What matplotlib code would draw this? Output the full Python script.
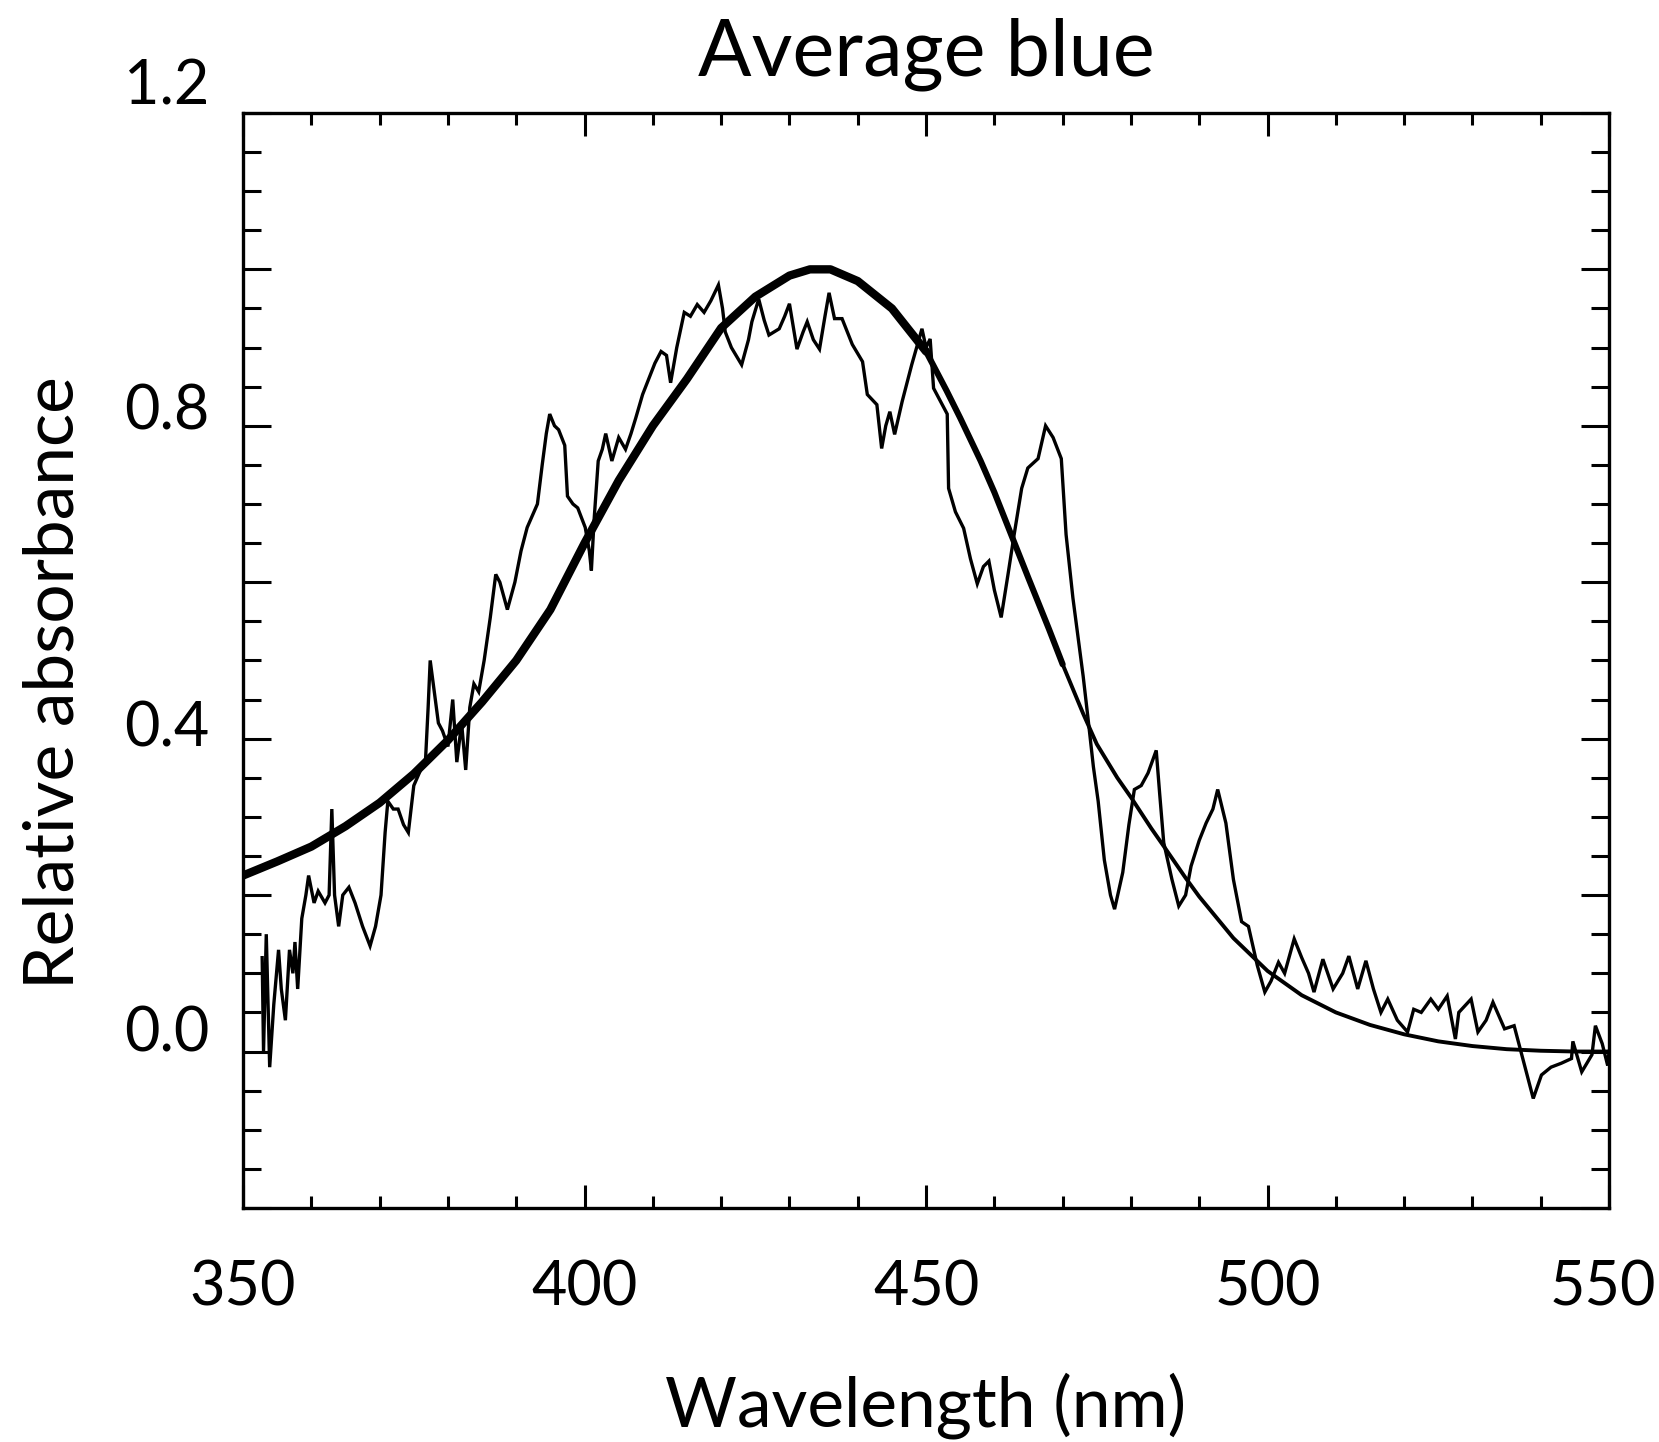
import numpy as np
import matplotlib.pyplot as plt
from matplotlib.ticker import MultipleLocator
from matplotlib.transforms import ScaledTranslation

plt.rcParams['font.family'] = ['Lato', 'DejaVu Sans']

# template fit (smooth curve)
wl_fit = [350, 355, 360, 365, 370, 375, 380, 385, 390, 395, 400, 405, 410,
          415, 420, 425, 430, 433, 436, 440, 445, 450, 453, 455, 458, 460,
          462.5, 465, 468, 470, 473, 475, 478, 480, 483, 485, 488, 490, 495,
          500, 505, 510, 515, 520, 525, 530, 535, 540, 545, 550]
abs_fit = [0.225, 0.243, 0.262, 0.288, 0.318, 0.355, 0.398, 0.447, 0.500,
           0.565, 0.650, 0.730, 0.800, 0.860, 0.925, 0.965, 0.992, 1.000,
           1.000, 0.985, 0.950, 0.895, 0.845, 0.810, 0.755, 0.715, 0.660,
           0.605, 0.540, 0.495, 0.432, 0.393, 0.350, 0.325, 0.285, 0.260,
           0.222, 0.198, 0.145, 0.103, 0.072, 0.050, 0.034, 0.022, 0.013,
           0.007, 0.003, 0.001, 0.0, 0.0]

# measured average spectrum (noisy curve)
wl_raw = [352.8, 353.0, 353.4, 353.9, 354.5, 355.2, 355.6, 356.2, 356.8, 357.3,
          357.6, 358.0, 358.6, 359.2, 359.6, 360.4, 361.0, 362.0, 362.6, 363.0,
          363.4, 364.0, 364.6, 365.5, 366.4, 367.5, 368.6, 369.4, 370.2, 370.8,
          371.2, 372.0, 372.7, 373.5, 374.2, 375.0, 376.0, 376.7, 377.1, 377.4,
          378.0, 378.6, 379.2, 380.0, 380.7, 381.3, 382.0, 382.6, 383.2, 383.8,
          384.5, 385.3, 386.2, 387.0, 387.6, 388.7, 389.8, 390.7, 391.6, 393.1,
          393.8, 394.4, 394.9, 395.6, 396.2, 397.1, 397.5, 398.3, 399.0, 400.1,
          400.7, 401.0, 401.4, 402.0, 402.6, 403.1, 404.0, 405.0, 406.0, 406.8,
          407.5, 408.5, 409.4, 410.3, 411.2, 412.0, 412.6, 413.5, 414.6, 415.5,
          416.5, 417.5, 418.5, 419.6, 420.2, 420.6, 421.5, 423.0, 424.0, 424.5,
          425.5, 426.3, 427.0, 428.5, 429.3, 430.0, 431.1, 432.0, 432.6, 433.5,
          434.4, 435.2, 435.8, 436.6, 437.7, 439.2, 440.7, 441.4, 442.8, 443.5,
          444.1, 444.7, 445.4, 446.5, 447.9, 449.4, 450.0, 450.6, 451.1, 452.2,
          453.1, 453.3, 454.3, 455.5, 456.5, 457.5, 458.4, 459.2, 460.0, 461.0,
          462.0, 462.9, 464.0, 464.9, 466.4, 467.5, 468.6, 469.8, 470.5, 471.5,
          473.0, 473.7, 474.5, 475.2, 476.1, 477.0, 477.6, 478.8, 479.7, 480.5,
          481.5, 482.5, 483.7, 484.2, 484.8, 486.0, 487.0, 488.0, 488.8, 490.0,
          491.0, 492.0, 492.7, 493.9, 495.0, 496.2, 497.2, 498.5, 499.6, 500.5,
          501.6, 502.5, 503.9, 505.0, 506.0, 506.8, 508.1, 509.6, 511.0, 511.9,
          513.2, 514.4, 515.5, 516.6, 517.6, 519.0, 520.5, 521.4, 522.5, 523.9,
          525.0, 526.3, 527.5, 528.0, 529.8, 530.8, 532.0, 533.0, 534.7, 536.1,
          537.1, 538.0, 538.9, 540.1, 541.5, 543.0, 544.5, 544.7, 546.0, 547.5,
          548.0, 549.0, 549.8, 550.0]
abs_raw = [0.12, 0.00, 0.15, -0.02, 0.06, 0.13, 0.08, 0.04, 0.13, 0.10,
           0.14, 0.08, 0.17, 0.20, 0.225, 0.19, 0.205, 0.19, 0.20, 0.31,
           0.20, 0.16, 0.20, 0.21, 0.19, 0.16, 0.135, 0.16, 0.20, 0.28,
           0.32, 0.31, 0.31, 0.29, 0.28, 0.34, 0.36, 0.37, 0.44, 0.50,
           0.46, 0.42, 0.41, 0.39, 0.45, 0.37, 0.42, 0.36, 0.44, 0.47,
           0.46, 0.50, 0.555, 0.61, 0.60, 0.565, 0.60, 0.64, 0.67, 0.70,
           0.75, 0.79, 0.815, 0.80, 0.795, 0.775, 0.71, 0.70, 0.695, 0.67,
           0.64, 0.615, 0.68, 0.755, 0.77, 0.79, 0.755, 0.785, 0.77, 0.79,
           0.81, 0.84, 0.86, 0.88, 0.895, 0.89, 0.855, 0.90, 0.945, 0.94,
           0.955, 0.945, 0.96, 0.98, 0.95, 0.92, 0.90, 0.878, 0.91, 0.933,
           0.962, 0.935, 0.916, 0.924, 0.94, 0.956, 0.898, 0.92, 0.933, 0.91,
           0.898, 0.94, 0.97, 0.937, 0.937, 0.904, 0.882, 0.84, 0.827, 0.771,
           0.80, 0.818, 0.789, 0.831, 0.878, 0.924, 0.90, 0.911, 0.848, 0.83,
           0.815, 0.72, 0.69, 0.669, 0.63, 0.598, 0.62, 0.627, 0.59, 0.555,
           0.61, 0.661, 0.72, 0.746, 0.758, 0.80, 0.785, 0.758, 0.661, 0.58,
           0.48, 0.427, 0.364, 0.32, 0.245, 0.20, 0.182, 0.229, 0.29, 0.335,
           0.34, 0.356, 0.385, 0.33, 0.267, 0.22, 0.186, 0.20, 0.237, 0.27,
           0.292, 0.31, 0.335, 0.292, 0.22, 0.166, 0.16, 0.11, 0.076, 0.09,
           0.114, 0.10, 0.144, 0.12, 0.10, 0.076, 0.118, 0.08, 0.10, 0.122,
           0.08, 0.116, 0.08, 0.05, 0.067, 0.04, 0.025, 0.054, 0.05, 0.067,
           0.054, 0.071, 0.016, 0.05, 0.067, 0.025, 0.04, 0.063, 0.029, 0.033,
           0.0, -0.03, -0.06, -0.03, -0.02, -0.015, -0.009, 0.013, -0.026, -0.004,
           0.033, 0.01, -0.018, 0.0]

y_ticks = [-0.2, 0.0, 0.2, 0.4, 0.6, 0.8, 1.0, 1.2]
y_ticklabels = ["", "0.0", "", "0.4", "", "0.8", "", "1.2"]
x_ticks = [350, 400, 450, 500, 550]
x_ticklabels = ["350", "400", "450", "500", "550"]

wl_fit = np.array(wl_fit)
abs_fit = np.array(abs_fit)

fig = plt.figure(figsize=(16.59, 14.42), dpi=100)
ax = fig.add_axes([0.1465, 0.1623, 0.8234, 0.7594])

ax.plot(wl_raw, abs_raw, color="black", lw=2.4, solid_joinstyle="miter")

# fit is drawn heavier on the blue side, as in the original
m1 = wl_fit <= 450
m2 = (wl_fit >= 450) & (wl_fit <= 470)
m3 = wl_fit >= 470
ax.plot(wl_fit[m1], abs_fit[m1], color="black", lw=6.0, solid_capstyle="round")
ax.plot(wl_fit[m2], abs_fit[m2], color="black", lw=4.4, solid_capstyle="round")
ax.plot(wl_fit[m3], abs_fit[m3], color="black", lw=2.8, solid_capstyle="round")

ax.set_xlim(350, 550)
ax.set_ylim(-0.2, 1.2)

ax.set_xticks(x_ticks)
ax.set_xticklabels(x_ticklabels)
ax.set_yticks(y_ticks)
ax.set_yticklabels(y_ticklabels)
ax.xaxis.set_minor_locator(MultipleLocator(10))
ax.yaxis.set_minor_locator(MultipleLocator(0.05))

for s in ax.spines.values():
    s.set_linewidth(2.4)

ax.tick_params(axis="both", which="both", direction="in", top=True, right=True,
               width=2.2, labelsize=44, color="black")
ax.tick_params(axis="x", which="major", length=16.5, pad=37)
ax.tick_params(axis="x", which="minor", length=8.6)
ax.tick_params(axis="y", which="major", length=20, pad=24)
ax.tick_params(axis="y", which="minor", length=13)

# y tick labels sit a little above their ticks in the original (inches)
lift = [0.0, 0.23, 0.0, 0.15, 0.0, 0.19, 0.0, 0.31]
for t, dy in zip(ax.yaxis.get_major_ticks(), lift):
    t.label1.set_transform(t.label1.get_transform()
                           + ScaledTranslation(0, dy, fig.dpi_scale_trans))
# last x label is pulled in a touch so it stays on the page
xt = ax.xaxis.get_major_ticks()[-1]
xt.label1.set_transform(xt.label1.get_transform()
                        + ScaledTranslation(-0.06, 0, fig.dpi_scale_trans))

ax.set_title("Average blue", fontsize=57, pad=27)
ax.set_xlabel("Wavelength (nm)", fontsize=50, va="baseline")
ax.xaxis.set_label_coords(0.5, -0.2)
ax.set_ylabel("Relative absorbance", fontsize=50, va="baseline")
ax.yaxis.set_label_coords(-0.124, 0.48)

fig.savefig("out.png", dpi=100)
